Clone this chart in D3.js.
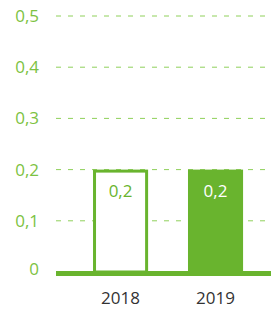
<!DOCTYPE html>
<html>
<head>
<meta charset="utf-8">
<script src="https://cdn.jsdelivr.net/npm/d3@7"></script>
<style>
  body { margin: 0; background: #fff; }
  svg { display: block; font-family: "Open Sans", sans-serif; }
</style>
</head>
<body>
<svg id="chart" width="271" height="309"></svg>
<script>
// chart data
const years = ["2018", "2019"];
const values = [0.2, 0.2];
const valueLabels = ["0,2", "0,2"];
const ticks = [0, 0.1, 0.2, 0.3, 0.4, 0.5];
const tickLabels = ["0", "0,1", "0,2", "0,3", "0,4", "0,5"];

const green = "#69b42e";
const lightGreen = "#7cc242";

const svg = d3.select("#chart");
const plotLeft = 56, plotRight = 271, plotTop = 16, plotBottom = 272;

const y = d3.scaleLinear().domain([0, 0.5]).range([plotBottom, plotTop]);
const x = d3.scaleBand()
    .domain(years)
    .range([plotLeft, plotRight])
    .paddingInner(0.42)
    .paddingOuter(0.342)
    .align(0.57);

// gridlines + tick labels
const grid = svg.append("g");
ticks.forEach((t, i) => {
    if (t > 0) {
        grid.append("line")
            .attr("x1", plotLeft).attr("x2", plotRight)
            .attr("y1", y(t)).attr("y2", y(t))
            .attr("stroke", "#8fd05a")
            .attr("stroke-width", 1)
            .attr("stroke-dasharray", "5,7");
    }
    grid.append("text")
        .attr("x", 39)
        .attr("y", y(t) - (t === 0 ? 3 : 0))
        .attr("dy", "0.35em")
        .attr("text-anchor", "end")
        .attr("fill", lightGreen)
        .style("font-size", "17px")
        .text(tickLabels[i]);
});

// bars
years.forEach((yr, i) => {
    const filled = i === 1;
    const bw = x.bandwidth();
    if (filled) {
        svg.append("rect")
            .attr("x", x(yr)).attr("y", y(values[i]))
            .attr("width", bw).attr("height", y(0) - y(values[i]))
            .attr("fill", green);
    } else {
        svg.append("rect")
            .attr("x", x(yr) + 1.5).attr("y", y(values[i]) + 1.5)
            .attr("width", bw - 3).attr("height", y(0) - y(values[i]) - 1.5)
            .attr("fill", "#fff")
            .attr("stroke", green)
            .attr("stroke-width", 3);
    }
    svg.append("text")
        .attr("x", x(yr) + bw / 2)
        .attr("y", y(values[i]) + 21)
        .attr("dy", "0.35em")
        .attr("text-anchor", "middle")
        .attr("fill", filled ? "#fff" : green)
        .style("font-size", "17px")
        .text(valueLabels[i]);
    svg.append("text")
        .attr("x", x(yr) + bw / 2)
        .attr("y", 298)
        .attr("dy", "0.35em")
        .attr("text-anchor", "middle")
        .attr("fill", "#333")
        .style("font-size", "17px")
        .text(yr);
});

// baseline
svg.append("rect")
    .attr("x", plotLeft).attr("y", y(0) - 1)
    .attr("width", plotRight - plotLeft).attr("height", 5)
    .attr("fill", green);
</script>
</body>
</html>
